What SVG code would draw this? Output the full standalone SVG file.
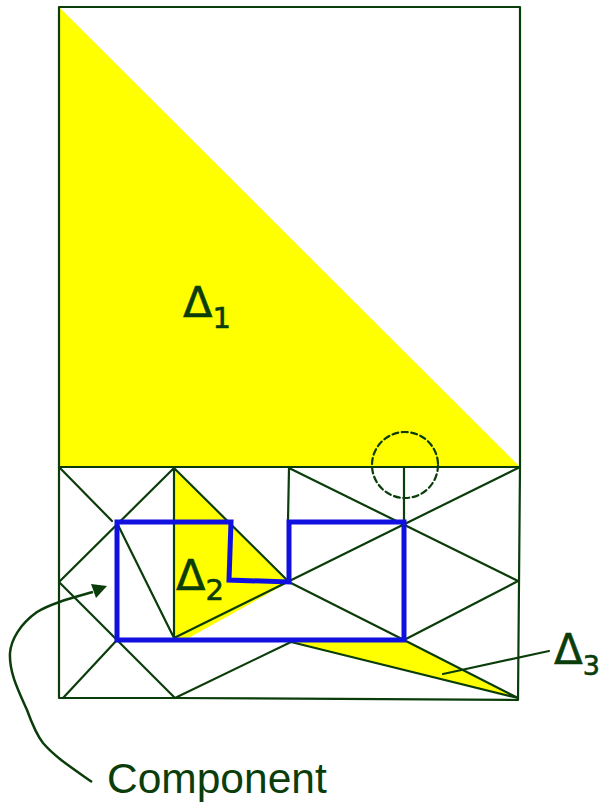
<svg xmlns="http://www.w3.org/2000/svg" width="602" height="802" viewBox="0 0 602 802">
<defs>
<style>
.m{fill:none;stroke:#0b3d0b;stroke-width:2.2;stroke-linecap:round;stroke-linejoin:round}
.y{fill:#ffff00;stroke:none}
.t{fill:#0b3d0b;stroke:#0b3d0b;stroke-width:.6;font-family:"DejaVu Sans",sans-serif}
</style>
</defs>
<rect width="602" height="802" fill="#fff"/>
<g id="regions">
<polygon class="y" points="59,7 59,467 520,467"/>
<polygon class="y" points="174,468 289,582 185,640 174,640"/>
<polygon class="y" points="291,642 404,640 518,698"/>
</g>
<g id="connectors">
<path class="m" d="M59,7H520V467H59ZM59,467V698H175L518,700L520,467"/>
<path class="m" d="M59,467L112,521M174,468L59,582L175,698M117,640L63,698M117,523L174,638V468L289,582L404,640L518,698L291,642L175,698M174,638L520,467M289,468L518,581L404,640M289,468L288,521M404,467V525"/>
<path class="m" d="M443,674L549,651"/>
<circle class="m" cx="405" cy="465" r="33" stroke-width="1.8" stroke-dasharray="6 3.5"/>
<path d="M231,522H117V640H404V522H289V582L229,580Z" fill="none" stroke="#1010e0" stroke-width="5"/>
<path d="M92,782C72,768 55,757 43,743C36,734 31,721 27,710C18,690 9,672 10,653C11,640 20,624 37,612C52,603 72,598 93,592" fill="none" stroke="#0b3d0b" stroke-width="2.5"/>
<path d="M107,586L91,584L96,598Z" fill="#0b3d0b"/>
</g>
<g id="label-d1"><text class="t" x="183" y="317" font-size="43">Δ<tspan font-size="29" dy="11">1</tspan></text></g>
<g id="label-d2"><text class="t" x="176" y="590" font-size="43">Δ<tspan font-size="29" dy="10">2</tspan></text></g>
<g id="label-d3"><text class="t" x="554" y="664" font-size="42">Δ<tspan font-size="27" dy="11">3</tspan></text></g>
<g id="label-component"><text x="107" y="793" font-size="42.5" fill="#0b3d0b" font-family="'Liberation Sans',Arial,sans-serif">Component</text></g>
</svg>
